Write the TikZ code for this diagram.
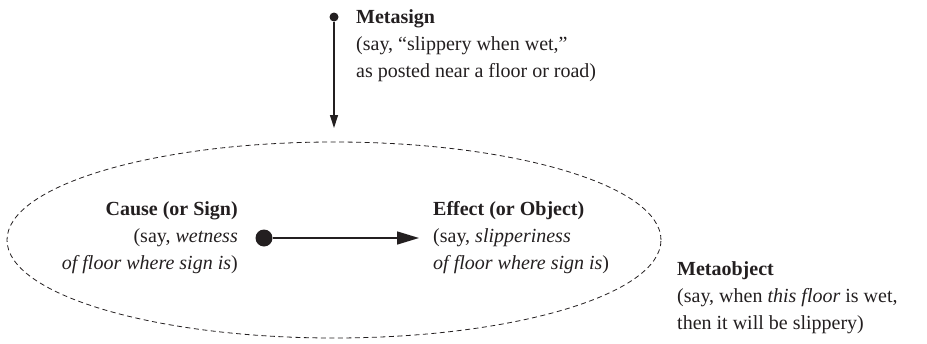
\documentclass[tikz,border=0pt]{standalone}
\usepackage{fontspec}
\setmainfont{Liberation Serif}
\usepackage{xcolor}
\usepackage{tikz}
\usetikzlibrary{arrows.meta,positioning,shapes.geometric}
\definecolor{inkdark}{HTML}{231F20}
\tikzset{
  textblock/.style={inner sep=0pt, font=\fontsize{20}{27}\selectfont, text=inkdark},
  leftblock/.style={textblock, align=left, anchor=base west},
  rightblock/.style={textblock, align=right, anchor=base east},
  bigdot/.style={circle, fill=inkdark, inner sep=0pt, minimum size=17pt},
  smalldot/.style={circle, fill=inkdark, inner sep=0pt, minimum size=9pt},
  arrow/.style={-{Triangle[length=22pt,width=13pt]}, line width=1.5pt, draw=inkdark},
  thinarrow/.style={-{Triangle[length=13pt,width=8pt]}, line width=1.3pt, draw=inkdark},
  metaframe/.style={ellipse, draw=inkdark, dash pattern=on 5pt off 3.5pt, line width=0.8pt, minimum width=654pt, minimum height=196pt, inner sep=0pt}
}

\begin{document}
\begin{tikzpicture}[x=1pt, y=-1pt]
  \useasboundingbox (0,0) rectangle (927,343);
  \node[metaframe] (M) at (334,240) {};

  % anchors sit on the baseline of the last line
  \node[smalldot] (S) at (334,17) {};
  \coordinate (T) at (334,128);
  \node[leftblock] (A) at (356,77) {\textbf{Metasign}\\(say, “slippery when wet,”\\as posted near a floor or road)};

  \node[bigdot] (C) at (264,238) {};
  \coordinate (E) at (419,238);
  \node[rightblock] (B) at (238,269) {\textbf{Cause (or Sign)}\\(say, \textit{wetness}\\\textit{of floor where sign is})};
  \node[leftblock] (D) at (433,269) {\textbf{Effect (or Object)}\\(say, \textit{slipperiness}\\\textit{of floor where sign is})};
  \node[leftblock] (F) at (677,329) {\textbf{Metaobject}\\(say, when \textit{this floor} is wet,\\then it will be slippery)};

  \draw[thinarrow] (S) -- (T);
  \draw[arrow] (C) -- (E);
\end{tikzpicture}
\end{document}
